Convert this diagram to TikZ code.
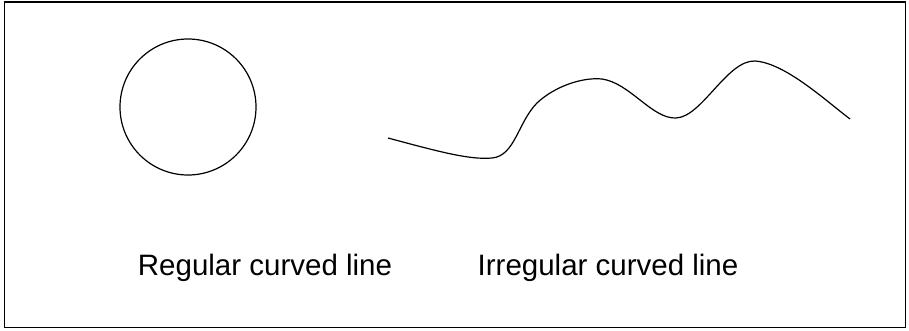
\documentclass[tikz,border=0pt]{standalone}
\usepackage{fontspec}
\setmainfont{Liberation Sans}

\begin{document}
\begin{tikzpicture}[x=1pt,y=-1pt,line width=1.2pt]
  \useasboundingbox (0,0) rectangle (909,330);
  \draw[line width=1.8pt] (4.5,2) rectangle (905.5,327.5);
  % regular curve
  \draw (188,107) circle[radius=68];
  % irregular curve
  \draw (388,138) .. controls (440,152) and (470,160) .. (492,158)
    .. controls (515,156) and (518,122) .. (537,103)
    .. controls (555,86) and (583,77) .. (602,79)
    .. controls (630,83) and (652,119) .. (676,118)
    .. controls (702,117) and (727,60) .. (755,61)
    .. controls (785,63) and (825,100) .. (850,119);
  \node[anchor=base,font=\fontsize{29.5}{33}\selectfont] (regular) at (265,275) {Regular curved line};
  \node[anchor=base,font=\fontsize{29.5}{33}\selectfont] (irregular) at (608,275) {Irregular curved line};
\end{tikzpicture}
\end{document}
